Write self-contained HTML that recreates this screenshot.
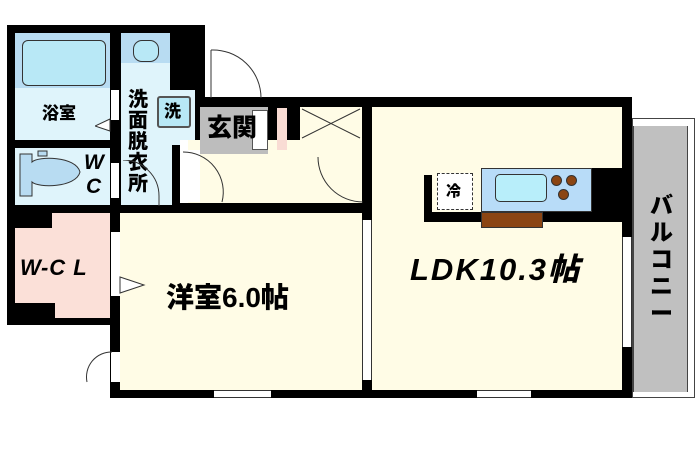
<!DOCTYPE html>
<html><head><meta charset="utf-8"><style>
body{margin:0;width:700px;height:460px;background:#fff;position:relative;overflow:hidden;font-family:"Liberation Sans","Noto Sans CJK JP",sans-serif;font-weight:bold}
div{position:absolute;box-sizing:border-box}
.k{background:#000}
.t{color:#000;font-weight:900;white-space:nowrap;line-height:1}
</style></head><body>
<div class="k" style="left:7px;top:25px;width:198px;height:300px"></div>
<div class="k" style="left:110px;top:97px;width:522px;height:301px"></div>
<!-- bathroom -->
<div style="left:15px;top:33px;width:95px;height:107px;background:#dff4fb"></div>
<div style="left:15px;top:33px;width:95px;height:55px;background:#b8dcf2"></div>
<div style="left:22px;top:40px;width:84px;height:46px;background:#b8e8f6;border:1px solid #333;border-radius:6px"></div>
<div class="t" style="left:42px;top:105px;font-size:17px">浴室</div>
<div style="left:111px;top:90px;width:8px;height:30px;background:#fff"></div>
<svg style="position:absolute;left:95px;top:118px" width="20" height="16"><polygon points="15,1 0,8 15,13" fill="#fff" stroke="#333" stroke-width="1"/></svg>
<!-- WC -->
<div style="left:15px;top:148px;width:95px;height:57px;background:#dff4fb"></div>
<svg style="position:absolute;left:18px;top:150px" width="65" height="50"><path d="M2 4 H14 V12 C20 6 58 6 62 22 C58 38 20 38 14 32 V46 H2 Z" fill="#b8dcf2" stroke="#333" stroke-width="1"/><rect x="20" y="1" width="9" height="5" fill="#b8dcf2" stroke="#333"/></svg>
<div class="t" style="left:84px;top:152px;font-size:21px;font-style:italic">W</div>
<div class="t" style="left:86px;top:176px;font-size:21px;font-style:italic">C</div>
<div style="left:111px;top:163px;width:8px;height:35px;background:#fff"></div>
<!-- wash room -->
<div style="left:121px;top:33px;width:49px;height:112px;background:#dff4fb"></div>
<div style="left:121px;top:33px;width:49px;height:30px;background:#b8dcf2"></div>
<div style="left:133px;top:40px;width:26px;height:22px;background:#b8e8f6;border:1px solid #333;border-radius:9px"></div>
<div style="left:121px;top:90px;width:74px;height:55px;background:#dff4fb"></div>
<div style="left:121px;top:145px;width:51px;height:60px;background:#dff4fb"></div>
<div style="left:157px;top:96px;width:34px;height:32px;background:#b8e8f6;border:2px solid #555;border-radius:3px"></div>
<div class="t" style="left:164px;top:103px;font-size:17px">洗</div>
<div class="t" style="left:128px;top:90px;font-size:20px;width:22px;line-height:21px;white-space:normal">洗面脱衣所</div>
<svg style="position:absolute;left:121px;top:160px" width="40" height="46"><path d="M2 0 A36 36 0 0 1 38 36 L38 46" fill="none" stroke="#333"/></svg>
<!-- genkan & hall -->
<div style="left:180px;top:140px;width:182px;height:63px;background:#fffce6"></div>
<div style="left:180px;top:140px;width:8px;height:63px;background:#fff"></div>
<div style="left:200px;top:107px;width:68px;height:47px;background:#bdbdbd"></div>
<div style="left:252px;top:110px;width:16px;height:40px;background:#fff;border:1px solid #555"></div>
<div style="left:277px;top:108px;width:10px;height:42px;background:#f9dcd4"></div>
<div class="t" style="left:207px;top:116px;font-size:25px">玄関</div>
<div style="left:300px;top:107px;width:62px;height:33px;background:#fffce6"></div>
<svg style="position:absolute;left:300px;top:107px" width="62" height="33"><path d="M2 2 L60 31 M60 2 L2 31" stroke="#333" stroke-width="1"/></svg>
<div style="left:182px;top:150px;width:18px;height:52px;background:#fff"></div>
<svg style="position:absolute;left:182px;top:150px" width="45" height="55"><path d="M1 2 A40 40 0 0 1 40 52" fill="none" stroke="#333"/></svg>
<svg style="position:absolute;left:315px;top:147px" width="50" height="58"><path d="M48 55 A45 45 0 0 1 3 10" fill="none" stroke="#333"/></svg>
<div style="left:210px;top:50px;width:55px;height:47px;background:#fff"></div>
<svg style="position:absolute;left:208px;top:48px" width="60" height="52"><path d="M3 2 A48 48 0 0 1 53 50" fill="none" stroke="#333"/><path d="M3 2 V50" stroke="#333"/></svg>
<!-- WCL -->
<div style="left:15px;top:213px;width:95px;height:105px;background:#fbe0d8"></div>
<div class="k" style="left:15px;top:213px;width:37px;height:15px"></div>
<div class="k" style="left:15px;top:303px;width:40px;height:15px"></div>
<div class="t" style="left:20px;top:257px;font-size:22px;font-style:italic;letter-spacing:1px">W-C L</div>
<div class="k" style="left:7px;top:318px;width:111px;height:7px"></div>
<!-- western room -->
<div style="left:120px;top:213px;width:242px;height:177px;background:#fffce6"></div>
<div style="left:111px;top:232px;width:9px;height:64px;background:#fff"></div>
<svg style="position:absolute;left:118px;top:275px" width="30" height="22"><polygon points="2,2 26,10 2,18" fill="#fff" stroke="#333"/></svg>
<div style="left:111px;top:352px;width:9px;height:30px;background:#fff"></div>
<svg style="position:absolute;left:84px;top:350px" width="30" height="35"><path d="M28 2 A25 25 0 0 0 3 32" fill="none" stroke="#333"/></svg>
<div style="left:214px;top:390px;width:57px;height:8px;background:#fff;border-top:1px solid #333;border-bottom:1px solid #333"></div>
<div style="left:362px;top:220px;width:10px;height:160px;background:#fff;border-left:1px solid #333;border-right:1px solid #333"></div>
<!-- LDK -->
<div style="left:372px;top:107px;width:250px;height:283px;background:#fffce6"></div>
<div class="k" style="left:424px;top:175px;width:8px;height:47px"></div>
<div class="k" style="left:424px;top:212px;width:198px;height:10px"></div>
<div class="k" style="left:592px;top:168px;width:30px;height:54px"></div>
<div style="left:437px;top:173px;width:36px;height:37px;background:#fff;border:1px dashed #333"></div>
<div class="t" style="left:446px;top:184px;font-size:15px">冷</div>
<div style="left:481px;top:168px;width:111px;height:44px;background:#b8dcf8;border:1px solid #333"></div>
<div style="left:495px;top:174px;width:52px;height:28px;background:#b8eefa;border:1px solid #333;border-radius:5px"></div>
<div style="left:551px;top:175px;width:11px;height:11px;border-radius:50%;background:#8b4513;border:1px solid #333"></div>
<div style="left:566px;top:175px;width:11px;height:11px;border-radius:50%;background:#8b4513;border:1px solid #333"></div>
<div style="left:558px;top:189px;width:11px;height:11px;border-radius:50%;background:#8b4513;border:1px solid #333"></div>
<div style="left:481px;top:212px;width:62px;height:16px;background:#8b4513;border:1px solid #333"></div>
<div class="t" style="left:410px;top:254px;font-size:31px;font-style:italic;letter-spacing:2px">LDK10.3帖</div>
<div style="left:622px;top:237px;width:10px;height:110px;background:#fff;border-left:1px solid #333;border-right:1px solid #333"></div>
<div style="left:477px;top:390px;width:54px;height:8px;background:#fff;border-top:1px solid #333;border-bottom:1px solid #333"></div>
<div class="t" style="left:166px;top:284px;font-size:28px">洋室6.0帖</div>
<!-- balcony -->
<div style="left:632px;top:118px;width:63px;height:280px;border:1px solid #444;background:#fff"></div>
<div style="left:633px;top:126px;width:55px;height:266px;background:#c0c0c0;border-left:1px solid #444;border-right:1px solid #444"></div>
<div class="t" style="left:650px;top:192px;font-size:23px;width:24px;line-height:27px;white-space:normal">バルコニー</div>
</body></html>
